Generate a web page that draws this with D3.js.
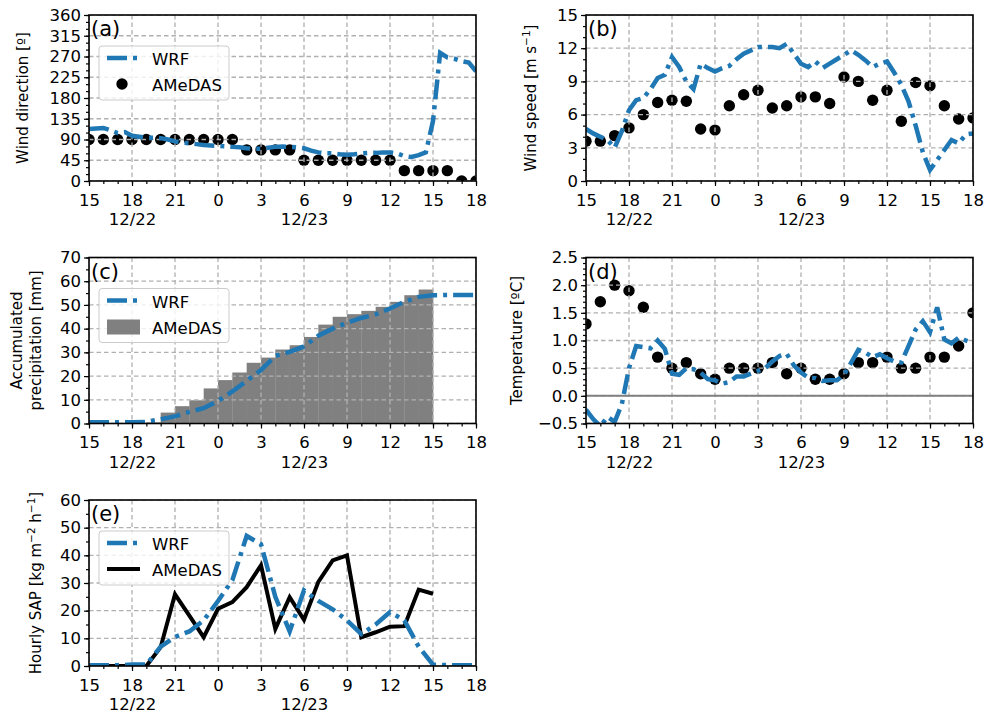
<!DOCTYPE html>
<html>
<head>
<meta charset="utf-8">
<script src="https://cdn.jsdelivr.net/npm/d3@7"></script>
<style>
body { margin: 0; background: #fff; }
svg text { font-family: "DejaVu Sans", sans-serif; fill: #000; }
</style>
</head>
<body>
<div id="vis"></div>
<script>
// hours since 12/22 15:00
var obsHours = d3.range(0, 28);
var wrfHalfHours = d3.range(0, 27.01, 0.5);
var xTickHours = [0, 3, 6, 9, 12, 15, 18, 21, 24, 27];
var xTickLabels = ['15', '18', '21', '0', '3', '6', '9', '12', '15', '18'];
var dateLabels = {3: '12/22', 15: '12/23'};

// (a) wind direction
var windDirWRF = [113, 114, 115, 110, 104, 106, 98, 96, 94, 94,
	93, 90, 86, 83, 82, 80, 78, 77, 76, 75,
	74, 73, 71, 70, 70, 72, 74, 75, 74, 73,
	71, 66, 62, 60, 60, 58, 57, 58, 60, 61,
	61, 62, 62, 60, 54, 52, 56, 62, 130, 278,
	268, 265, 260, 257, 238];
var windDirObs = [90, 90, 90, 90, 90, 90, 90, 90, 90, 90, 90,
	67.5, 67.5, 67.5, 67.5,
	45, 45, 45, 45, 45, 45, 45,
	22.5, 22.5, 22.5, 22.5, 0, 0];

// (b) wind speed
var windSpdWRF = [4.7, 4.3, 4.0, 3.7, 3.0, 4.5, 6.4, 7.3, 7.5, 8.3,
	9.3, 9.6, 11.2, 10.3, 9.0, 8.3, 10.6, 10.2, 9.9, 10.2,
	10.4, 11.0, 11.5, 11.8, 12.1, 12.1, 12.1, 12.0, 12.4, 11.5,
	10.6, 10.3, 10.8, 10.2, 10.6, 11.0, 11.4, 11.8, 11.4, 10.9,
	10.3, 10.6, 10.8, 9.8, 8.7, 7.2, 5.0, 2.6, 1.0, 1.9,
	2.8, 3.7, 3.4, 4.2, 4.3];
var windSpdObs = [3.6, 3.6, 4.1, 4.8, 6.0, 7.1, 7.3, 7.2, 4.7, 4.6,
	6.8, 7.8, 8.2, 6.6, 6.8, 7.6, 7.6, 7.0, 9.4, 9.0,
	7.3, 8.2, 5.4, 8.9, 8.6, 6.8, 5.6, 5.7];

// (c) accumulated precipitation (obs bars: bin starting at hour i)
var precipWRF = [0.5, 0.5, 0.5, 0.5, 0.7, 1.8, 3, 4.9, 6.5, 9.5,
	13.5, 18, 22.5, 28.5, 30.2, 32.5, 37, 40, 42.5, 44.5,
	46, 48.5, 51.3, 53.4, 54.1, 54.2, 54.2, 54.2];
var precipObs = [0, 0, 0, 0, 0.5, 4.6, 7.3, 9.8, 14.8, 18.3,
	21.5, 25.6, 27.8, 31.2, 33, 36.5, 41.7, 45, 46.1, 47.5,
	49.2, 51.3, 54.1, 56.5];

// (d) temperature
var tempWRF = [-0.25, -0.42, -0.55, -0.38, -0.47, -0.15, 0.5, 0.9, 0.88, 0.86,
	1.0, 0.85, 0.4, 0.38, 0.5, 0.48, 0.42, 0.3, 0.28, 0.22,
	0.25, 0.35, 0.35, 0.4, 0.45, 0.5, 0.62, 0.72, 0.76, 0.55,
	0.42, 0.33, 0.32, 0.27, 0.28, 0.28, 0.38, 0.6, 0.83, 0.78,
	0.7, 0.75, 0.68, 0.62, 0.6, 0.9, 1.2, 1.35, 1.15, 1.6,
	1.02, 0.95, 1.05, 1.0, 0.95];
var tempObs = [1.3, 1.7, 2.0, 1.9, 1.6, 0.7, 0.5, 0.6, 0.4, 0.3,
	0.5, 0.5, 0.5, 0.6, 0.4, 0.5, 0.3, 0.3, 0.4, 0.6,
	0.6, 0.7, 0.5, 0.5, 0.7, 0.7, 0.9, 1.5];

// (e) hourly SAP
var sapWRF = [0.3, 0.3, 0.3, 0.5, 0.5, 7, 10.5, 12.5, 16.5, 23.5,
	31, 47, 44, 25, 12.5, 27.3, 23.5, 20.5, 16.5, 11.5,
	15, 19.5, 16.5, 7, 0.5, 0.3, 0.3, 0.3];
var sapObs = [0, 0, 0, 0, 0, 6.8, 25.9, 18.2, 10.4, 20.7,
	23.1, 28.5, 36.4, 13.4, 24.9, 16.7, 30.4, 38.2, 40, 10.4,
	12.2, 14.2, 14.4, 27.6, 26.1];

var BLUE = '#1f77b4';
var DASH = '20,6,4,6';
var W = 387, H = 166;

var svg = d3.select('#vis').append('svg')
	.attr('width', 987)
	.attr('height', 715);

function makePanel(cfg) {
	var g = svg.append('g').attr('transform', 'translate(' + cfg.left + ',' + cfg.top + ')');
	var x = d3.scaleLinear().domain([0, 27]).range([0, W]);
	var y = d3.scaleLinear().domain(cfg.yDomain).range([H, 0]);

	var clipId = 'clip-' + cfg.name;
	g.append('clipPath').attr('id', clipId)
		.append('rect').attr('width', W).attr('height', H);
	var plot = g.append('g').attr('clip-path', 'url(#' + clipId + ')');

	// bars and dots sit under the grid
	if (cfg.bars) {
		plot.selectAll('rect.bar').data(cfg.bars).enter()
			.append('rect')
			.attr('class', 'bar')
			.attr('x', function(d, i) { return x(i); })
			.attr('width', x(1) - x(0) + 0.3)
			.attr('y', function(d) { return y(d); })
			.attr('height', function(d) { return H - y(d); })
			.attr('fill', '#808080');
	}
	if (cfg.dots) {
		plot.selectAll('circle').data(cfg.dots).enter()
			.append('circle')
			.attr('cx', function(d, i) { return x(obsHours[i]); })
			.attr('cy', function(d) { return y(d); })
			.attr('r', 5.7)
			.attr('fill', '#000');
	}

	// grid
	var yTicks = d3.range(cfg.yDomain[0], cfg.yDomain[1] + cfg.yStep / 2, cfg.yStep);
	plot.selectAll('line.vgrid').data(xTickHours).enter()
		.append('line')
		.attr('x1', function(d) { return x(d); })
		.attr('x2', function(d) { return x(d); })
		.attr('y1', 0).attr('y2', H)
		.attr('stroke', '#b0b0b0').attr('stroke-width', 1.3)
		.attr('stroke-dasharray', '4.5,3');
	plot.selectAll('line.hgrid').data(yTicks).enter()
		.append('line')
		.attr('x1', 0).attr('x2', W)
		.attr('y1', function(d) { return y(d); })
		.attr('y2', function(d) { return y(d); })
		.attr('stroke', '#b0b0b0').attr('stroke-width', 1.3)
		.attr('stroke-dasharray', '4.5,3');

	if (cfg.zeroLine) {
		plot.append('line')
			.attr('x1', 0).attr('x2', W)
			.attr('y1', y(0)).attr('y2', y(0))
			.attr('stroke', '#808080').attr('stroke-width', 2);
	}

	if (cfg.solid) {
		plot.append('path')
			.datum(cfg.solid)
			.attr('d', d3.line().x(function(d, i) { return x(obsHours[i]); }).y(function(d) { return y(d); }))
			.attr('fill', 'none').attr('stroke', '#000').attr('stroke-width', 4)
			.attr('stroke-linejoin', 'miter');
	}
	if (cfg.wrf) {
		plot.append('path')
			.datum(cfg.wrf)
			.attr('d', d3.line().x(function(d, i) { return x(cfg.wrfTimes[i]); }).y(function(d) { return y(d); }))
			.attr('fill', 'none').attr('stroke', BLUE).attr('stroke-width', 4.5)
			.attr('stroke-dasharray', DASH);
	}

	// axes
	g.append('g').attr('transform', 'translate(0,' + H + ')')
		.call(d3.axisBottom(x).tickValues(xTickHours)
			.tickFormat(function(d, i) { return xTickLabels[i]; })
			.tickSize(5).tickPadding(8))
		.selectAll('.tick text')
		.each(function(d) {
			if (dateLabels[d]) {
				d3.select(this).append('tspan')
					.attr('x', 0).attr('dy', '1.17em')
					.text(dateLabels[d]);
			}
		});
	var xMinor = g.append('g').attr('transform', 'translate(0,' + H + ')')
		.call(d3.axisBottom(x).tickValues(obsHours).tickFormat('').tickSize(3));
	xMinor.selectAll('text').remove();
	g.append('g')
		.call(d3.axisLeft(y).tickValues(yTicks)
			.tickFormat(cfg.yFormat || d3.format('d'))
			.tickSize(5).tickPadding(3));
	var yMinor = d3.range(cfg.yDomain[0], cfg.yDomain[1] + cfg.yMinor / 2, cfg.yMinor);
	var yMinorG = g.append('g')
		.call(d3.axisLeft(y).tickValues(yMinor).tickFormat('').tickSize(3));
	yMinorG.selectAll('text').remove();

	g.selectAll('.domain').remove();
	g.selectAll('.tick line').attr('stroke', '#000').attr('stroke-width', 1.2);
	g.selectAll('.tick text').attr('font-size', 16.5).attr('font-family', null).attr('fill', '#000');

	// frame
	g.append('rect').attr('width', W).attr('height', H)
		.attr('fill', 'none').attr('stroke', '#000').attr('stroke-width', 1.6);

	// panel letter
	g.append('text').attr('x', 2).attr('y', 21)
		.attr('font-size', 21).text(cfg.letter);

	// y label
	var lab = g.append('text')
		.attr('transform', 'translate(' + cfg.yLabelX + ',' + (H / 2) + ') rotate(-90)')
		.attr('text-anchor', 'middle')
		.attr('font-size', 15);
	cfg.yLabel(lab);

	// legend
	if (cfg.legend) {
		var lg = g.append('g').attr('transform', 'translate(10,31)');
		lg.append('rect').attr('width', 130).attr('height', 54).attr('rx', 3)
			.attr('fill', '#fff').attr('fill-opacity', 0.8)
			.attr('stroke', '#cccccc').attr('stroke-width', 1);
		lg.append('line').attr('x1', 8).attr('x2', 41).attr('y1', 12).attr('y2', 12)
			.attr('stroke', BLUE).attr('stroke-width', 4.5).attr('stroke-dasharray', DASH);
		lg.append('text').attr('x', 53).attr('y', 19).attr('font-size', 16.5).text('WRF');
		if (cfg.legend === 'dot') {
			lg.append('circle').attr('cx', 23).attr('cy', 38).attr('r', 5.7).attr('fill', '#000');
		} else if (cfg.legend === 'rect') {
			lg.append('rect').attr('x', 8).attr('y', 31).attr('width', 33).attr('height', 15).attr('fill', '#808080');
		} else {
			lg.append('line').attr('x1', 8).attr('x2', 41).attr('y1', 38).attr('y2', 38)
				.attr('stroke', '#000').attr('stroke-width', 4);
		}
		lg.append('text').attr('x', 53).attr('y', 45).attr('font-size', 16.5).text('AMeDAS');
	}
}

makePanel({
	name: 'a', letter: '(a)', left: 89, top: 15,
	yDomain: [0, 360], yStep: 45, yMinor: 15,
	wrf: windDirWRF, wrfTimes: wrfHalfHours, dots: windDirObs, legend: 'dot',
	yLabelX: -61,
	yLabel: function(t) { t.text('Wind direction [º]'); }
});

makePanel({
	name: 'b', letter: '(b)', left: 586, top: 15,
	yDomain: [0, 15], yStep: 3, yMinor: 1,
	wrf: windSpdWRF, wrfTimes: wrfHalfHours, dots: windSpdObs,
	yLabelX: -50,
	yLabel: function(t) {
		t.append('tspan').text('Wind speed [m s');
		t.append('tspan').attr('dy', -6).attr('font-size', 10.5).text('−1');
		t.append('tspan').attr('dy', 6).text(']');
	}
});

makePanel({
	name: 'c', letter: '(c)', left: 89, top: 257.5,
	yDomain: [0, 70], yStep: 10, yMinor: 5,
	wrf: precipWRF, wrfTimes: obsHours, bars: precipObs, legend: 'rect',
	yLabelX: -63,
	yLabel: function(t) {
		t.append('tspan').attr('x', 0).attr('dy', -4).text('Accumulated');
		t.append('tspan').attr('x', 0).attr('dy', 19).text('precipitation [mm]');
	}
});

makePanel({
	name: 'd', letter: '(d)', left: 586, top: 257.5,
	yDomain: [-0.5, 2.5], yStep: 0.5, yMinor: 0.1,
	yFormat: function(d) { return d3.format('.1f')(d).replace('-', '−'); },
	wrf: tempWRF, wrfTimes: wrfHalfHours, dots: tempObs, zeroLine: true,
	yLabelX: -64,
	yLabel: function(t) { t.text('Temperature [ºC]'); }
});

makePanel({
	name: 'e', letter: '(e)', left: 89, top: 500,
	yDomain: [0, 60], yStep: 10, yMinor: 5,
	wrf: sapWRF, wrfTimes: obsHours, solid: sapObs, legend: 'line',
	yLabelX: -48,
	yLabel: function(t) {
		t.append('tspan').text('Hourly SAP [kg m');
		t.append('tspan').attr('dy', -6).attr('font-size', 10.5).text('−2');
		t.append('tspan').attr('dy', 6).text(' h');
		t.append('tspan').attr('dy', -6).attr('font-size', 10.5).text('−1');
		t.append('tspan').attr('dy', 6).text(']');
	}
});
</script>
</body>
</html>
